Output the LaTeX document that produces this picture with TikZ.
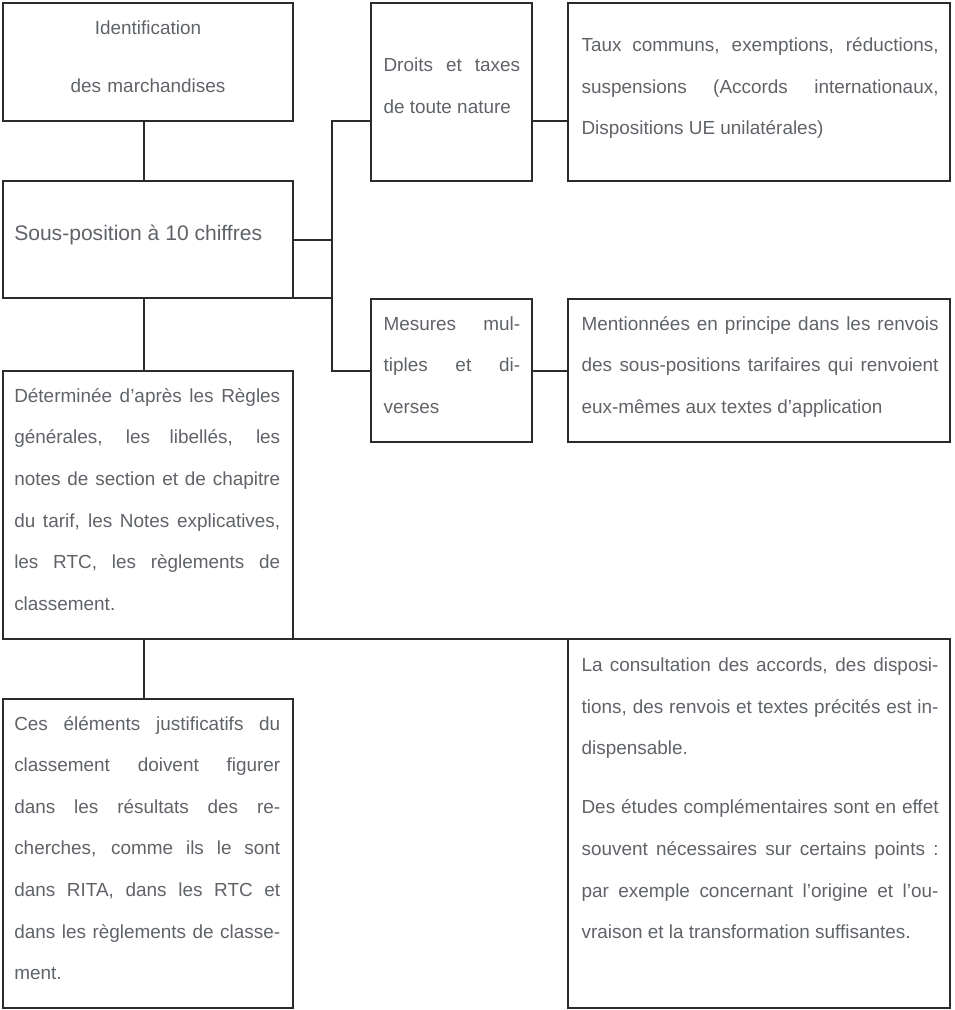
\documentclass[tikz,border=0pt]{standalone}
\usepackage{fontspec}
\setmainfont{Liberation Sans}
\usepackage{xcolor}
\usetikzlibrary{positioning}
\definecolor{edgegray}{HTML}{2B2B2B}
\definecolor{textgray}{HTML}{5F6368}
\hyphenpenalty=10000
\exhyphenpenalty=10000

\begin{document}
\begin{tikzpicture}[x=0.75pt, y=-0.75pt, every node/.style={font=\fontsize{14.2pt}{31.2pt}\selectfont, text=textgray}]
\tikzstyle{box}=[rectangle, draw=edgegray, line width=1.5pt, inner sep=0pt, outer sep=0pt]
\tikzstyle{txt}=[inner sep=0pt, anchor=base west, align=justify]
\tikzstyle{link}=[draw=edgegray, line width=1.5pt]
\useasboundingbox (0,0) rectangle (954,1010);
% left column
\node[box, minimum width=217.5pt, minimum height=88.5pt, anchor=north west] (ident) at (3,3) {};
\node[box, minimum width=217.5pt, minimum height=87.75pt, below=45pt of ident.south west, anchor=north west] (sous) {};
\node[box, minimum width=217.5pt, minimum height=201pt, below=54.75pt of sous.south west, anchor=north west] (determ) {};
\node[box, minimum width=217.5pt, minimum height=231.75pt, below=45pt of determ.south west, anchor=north west] (ces) {};
% middle and right columns
\node[box, minimum width=120.75pt, minimum height=133.5pt, right=58.5pt of ident.north east, anchor=north west] (droits) {};
\node[box, minimum width=286.5pt, minimum height=133.5pt, right=27pt of droits.north east, anchor=north west] (taux) {};
\node[box, minimum width=120.75pt, minimum height=107.25pt, below=88.5pt of droits.south west, anchor=north west] (mesures) {};
\node[box, minimum width=286.5pt, minimum height=107.25pt, right=27pt of mesures.north east, anchor=north west] (mention) {};
\node[box, minimum width=286.5pt, minimum height=276.75pt, anchor=north west] (consult) at (taux.west |- determ.south) {};
% texts
\node[inner sep=0pt, anchor=base, align=center, text width=199.5pt] (identtxt) at (148,34.3) {Identification\\[12.3pt]des marchandises};
\node[inner sep=0pt, anchor=base west, font=\fontsize{15.8pt}{20pt}\selectfont] (soustxt) at (14,240.7) {Sous-position à 10 chiffres};
\node[txt, text width=102.4pt] (droitstxt) at (383.3,71.7) {Droits et taxes\linebreak de toute nature};
\node[txt, text width=102.4pt] (mesurestxt) at (383.3,330) {Mesures mul-\linebreak tiples et di-\linebreak verses};
\node[txt, text width=267.75pt] (tauxtxt) at (581.3,51.7) {Taux communs, exemptions, réductions,\linebreak suspensions (Accords internationaux,\linebreak Dispositions UE unilatérales)};
\node[txt, text width=267.75pt] (mentiontxt) at (581.3,330) {Mentionnées en principe dans les renvois\linebreak des sous-positions tarifaires qui renvoient\linebreak eux-mêmes aux textes d’application};
\node[txt, text width=199.5pt] (determtxt) at (14,402.3) {Déterminée d’après les Règles\linebreak générales, les libellés, les\linebreak notes de section et de chapitre\linebreak du tarif, les Notes explicatives,\linebreak les RTC, les règlements de\linebreak classement.};
\node[txt, text width=199.5pt] (cestxt) at (14,730) {Ces éléments justificatifs du\linebreak classement doivent figurer\linebreak dans les résultats des re-\linebreak cherches, comme ils le sont\linebreak dans RITA, dans les RTC et\linebreak dans les règlements de classe-\linebreak ment.};
\node[txt, text width=267.75pt] (consulttxt) at (581.3,671.7) {La consultation des accords, des disposi-\linebreak tions, des renvois et textes précités est in-\linebreak dispensable.\par\vspace{13pt}Des études complémentaires sont en effet\linebreak souvent nécessaires sur certains points~:\linebreak par exemple concernant l’origine et l’ou-\linebreak vraison et la transformation suffisantes.};
% connectors
\coordinate (fork) at ([xshift=29.25pt]sous.east);
\draw[link] ([xshift=-3pt]ident.south) -- ([xshift=-3pt]sous.north);
\draw[link] ([xshift=-3pt]sous.south) -- ([xshift=-3pt]determ.north);
\draw[link] ([xshift=-3pt]determ.south) -- ([xshift=-3pt]ces.north);
\draw[link] (sous.east) -- (fork);
\draw[link] (sous.south east) -- (sous.south east -| fork);
\draw[link] (fork) |- (ident.south -| droits.west);
\draw[link] (fork) |- (mesures.west);
\draw[link] (ident.south -| droits.east) -- (ident.south -| taux.west);
\draw[link] (mesures.east) -- (mention.west);
\draw[link] (determ.south east) -- (consult.north west);
\end{tikzpicture}
\end{document}
